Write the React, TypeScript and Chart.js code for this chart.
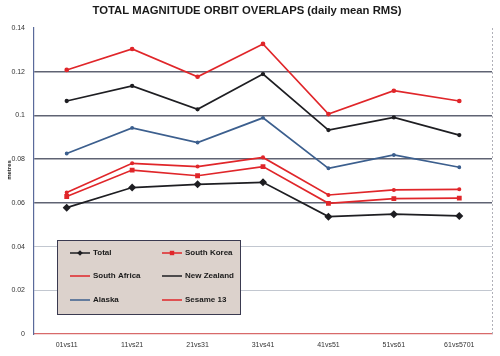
import React, { useEffect, useRef } from "react";
import { Chart, registerables } from "chart.js";

Chart.register(...registerables);

const categories = ["01vs11", "11vs21", "21vs31", "31vs41", "41vs51", "51vs61", "61vs5701"];
const total = [0.0578, 0.067, 0.0685, 0.0694, 0.0537, 0.0548, 0.054];
const southKorea = [0.0629, 0.075, 0.0724, 0.0766, 0.0598, 0.0619, 0.0622];
const southAfrica = [0.0647, 0.0781, 0.0766, 0.0808, 0.0636, 0.0659, 0.0662];
const newZealand = [0.1066, 0.1135, 0.1028, 0.1189, 0.0933, 0.0991, 0.091];
const alaska = [0.0826, 0.0943, 0.0876, 0.0989, 0.0758, 0.0819, 0.0763];
const sesame13 = [0.1208, 0.1304, 0.1177, 0.1327, 0.1006, 0.1113, 0.1066];
const yTicks = [0, 0.02, 0.04, 0.06, 0.08, 0.1, 0.12, 0.14];

const RED = "#e0262a";
const BLACK = "#1e1e22";
const BLUE = "#3c5f8e";

const titlePlugin = {
  id: "customTitle",
  afterDraw(chart: any) {
    const ctx = chart.ctx;
    ctx.save();
    ctx.font = "bold 11.3px 'Liberation Sans', Arial, sans-serif";
    ctx.fillStyle = "#1a1a1a";
    ctx.textAlign = "center";
    ctx.textBaseline = "middle";
    ctx.fillText("TOTAL MAGNITUDE ORBIT OVERLAPS (daily mean RMS)", 247, 11);
    ctx.translate(9, 170);
    ctx.rotate(-Math.PI / 2);
    ctx.font = "bold 6px 'Liberation Sans', Arial, sans-serif";
    ctx.fillText("metres", 0, 0);
    ctx.restore();
    const a = chart.chartArea;
    ctx.save();
    ctx.strokeStyle = "#b0b0b8";
    ctx.setLineDash([2, 2]);
    ctx.lineWidth = 1;
    ctx.beginPath();
    ctx.moveTo(a.right + 0.5, a.top);
    ctx.lineTo(a.right + 0.5, a.bottom);
    ctx.stroke();
    ctx.restore();
  },
};

const legendPlugin = {
  id: "insideLegend",
  afterDatasetsDraw(chart: any) {
    const ctx = chart.ctx;
    const x0 = 57, y0 = 240, w = 183, h = 74;
    ctx.save();
    ctx.fillStyle = "#dcd2cc";
    ctx.fillRect(x0, y0, w, h);
    ctx.strokeStyle = "#3a3a50";
    ctx.lineWidth = 1;
    ctx.strokeRect(x0 + 0.5, y0 + 0.5, w, h);
    const ds = chart.data.datasets;
    const colX = [70, 162];
    const rowY = [253, 276, 300];
    ctx.font = "bold 8px 'Liberation Sans', Arial, sans-serif";
    ctx.textBaseline = "middle";
    ds.forEach((d: any, i: number) => {
      const cx = colX[i % 2];
      const cy = rowY[Math.floor(i / 2)];
      ctx.strokeStyle = d.borderColor;
      ctx.lineWidth = 1.5;
      ctx.beginPath();
      ctx.moveTo(cx, cy);
      ctx.lineTo(cx + 20, cy);
      ctx.stroke();
      ctx.fillStyle = d.borderColor;
      const r = d.pointRadius;
      if (d.pointStyle === "rect") {
        ctx.fillRect(cx + 10 - r, cy - r, 2 * r, 2 * r);
      } else if (d.pointStyle === "rectRot") {
        ctx.beginPath();
        ctx.moveTo(cx + 10, cy - r);
        ctx.lineTo(cx + 10 + r, cy);
        ctx.lineTo(cx + 10, cy + r);
        ctx.lineTo(cx + 10 - r, cy);
        ctx.closePath();
        ctx.fill();
      }
      ctx.fillStyle = "#1a1a1a";
      ctx.fillText(d.label, cx + 23, cy);
    });
    ctx.restore();
  },
};

export default function App() {
  const ref = useRef<HTMLCanvasElement>(null);
  useEffect(() => {
    if (!ref.current) return;
    const mk = (label: string, data: number[], color: string, style: string, r: number) => ({
      label,
      data,
      borderColor: color,
      backgroundColor: color,
      borderWidth: 1.7,
      pointStyle: style,
      pointRadius: r,
      pointHoverRadius: r,
      tension: 0,
    });
    const chart = new Chart(ref.current, {
      type: "line",
      data: {
        labels: categories,
        datasets: [
          mk("Total", total, BLACK, "rectRot", 2.8),
          mk("South Korea", southKorea, RED, "rect", 2.2),
          mk("South Africa", southAfrica, RED, "circle", 1.2),
          mk("New Zealand", newZealand, BLACK, "circle", 1.3),
          mk("Alaska", alaska, BLUE, "circle", 1.1),
          mk("Sesame 13", sesame13, RED, "circle", 1.5),
        ] as any,
      },
      options: {
        animation: false,
        responsive: false,
        maintainAspectRatio: false,
        layout: { padding: { top: 28, right: 8, left: 0, bottom: 0 } },
        plugins: {
          legend: { display: false },
          title: { display: false },
          tooltip: { enabled: false },
        },
        scales: {
          x: {
            offset: true,
            grid: { display: false, drawTicks: false },
            border: { color: "#d86a6a", width: 1.2 },
            ticks: {
              color: "#333",
              font: { size: 7, family: "'Liberation Sans', Arial, sans-serif" },
              padding: 7,
              maxRotation: 0,
              autoSkip: false,
            },
            afterFit(scale: any) {
              scale.height = 22;
            },
          },
          y: {
            min: 0,
            max: 0.14,
            afterBuildTicks(scale: any) {
              scale.ticks = yTicks.map((v) => ({ value: v }));
            },
            grid: {
              drawTicks: false,
              color: (c: any) => {
                const v = c.tick ? c.tick.value : 0;
                if (v >= 0.059 && v <= 0.121) return "rgba(55,60,80,0.8)";
                if (v > 0.13 || v < 0.001) return "rgba(0,0,0,0)";
                return "rgba(120,130,150,0.45)";
              },
              lineWidth: (c: any) => {
                const v = c.tick ? c.tick.value : 0;
                return v >= 0.059 && v <= 0.121 ? 1.4 : 1;
              },
            },
            border: { color: "#5a6a9a", width: 1.2 },
            ticks: {
              color: "#333",
              font: { size: 7, family: "'Liberation Sans', Arial, sans-serif" },
              padding: 9,
              callback: (v: any) => String(Number(Number(v).toFixed(2))),
            },
            afterFit(scale: any) {
              scale.width = 34;
            },
          },
        },
      },
      plugins: [titlePlugin, legendPlugin],
    } as any);
    return () => chart.destroy();
  }, []);
  return (
    <div style={{ position: "fixed", left: 0, top: 0, width: 500, height: 356, background: "#fff" }}>
      <canvas ref={ref} width={500} height={356} style={{ width: 500, height: 356 }} />
    </div>
  );
}
